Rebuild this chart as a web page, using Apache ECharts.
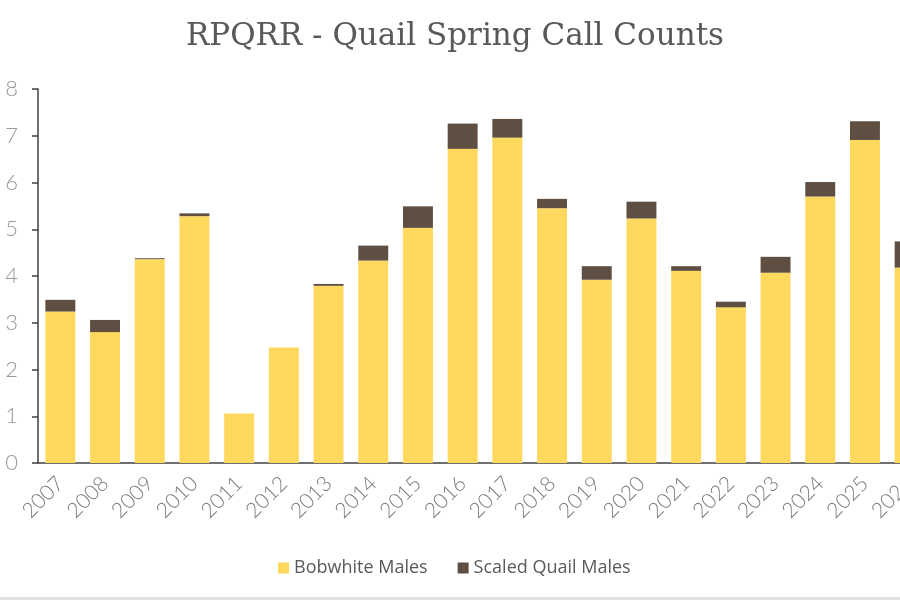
<!DOCTYPE html>
<html lang="en">
<head>
    <meta charset="UTF-8">
    <title>RPQRR - Quail Spring Call Counts</title>
    <script src="https://cdn.jsdelivr.net/npm/echarts@6/dist/echarts.min.js"></script>
    <style>
        html, body { margin: 0; padding: 0; background: #fff; overflow: hidden; }
        /* chart is wider than the window so the last bar gets cut off like the reference */
        #chart { width: 932px; height: 597px; }
        #rule { position: absolute; left: 0; top: 597px; width: 900px; height: 3px; background: #e3e3e3; }
    </style>
</head>
<body>
    <div id="chart"></div>
    <div id="rule"></div>
<script>
    // data
    var years = ['2007', '2008', '2009', '2010', '2011', '2012', '2013', '2014', '2015', '2016',
        '2017', '2018', '2019', '2020', '2021', '2022', '2023', '2024', '2025', '2026'];
    var bobwhite = [3.24, 2.80, 4.36, 5.28, 1.06, 2.47, 3.79, 4.33, 5.03, 6.72,
        6.96, 5.45, 3.92, 5.23, 4.11, 3.33, 4.07, 5.70, 6.91, 4.18];
    var scaled = [0.25, 0.26, 0.02, 0.06, 0, 0, 0.04, 0.32, 0.46, 0.54,
        0.40, 0.20, 0.29, 0.36, 0.10, 0.12, 0.34, 0.31, 0.40, 0.56];
    var yTicks = [0, 1, 2, 3, 4, 5, 6, 7, 8];

    var chart = echarts.init(document.getElementById('chart'));
    var option = {
        animation: false,
        title: {
            text: 'RPQRR - Quail Spring Call Counts',
            left: 450,
            textAlign: 'center',
            top: 16,
            textStyle: {
                fontFamily: 'DejaVu Serif',
                fontWeight: 'normal',
                fontSize: 31,
                color: '#595959'
            }
        },
        legend: {
            top: 554,
            left: 273,
            itemWidth: 11,
            itemHeight: 11,
            itemGap: 30,
            icon: 'rect',
            textStyle: {
                fontFamily: 'Open Sans',
                fontSize: 18,
                color: '#595959'
            },
            data: ['Bobwhite Males', 'Scaled Quail Males']
        },
        grid: {
            left: 38,
            right: 0,
            top: 89,
            bottom: 134
        },
        xAxis: {
            type: 'category',
            data: years,
            axisLine: { lineStyle: { color: '#404040', width: 1.5 } },
            axisTick: { show: false },
            axisLabel: {
                rotate: 45,
                interval: 0,
                margin: 17,
                fontFamily: 'Lato',
                fontWeight: 300,
                fontSize: 21,
                color: '#7a7a7a'
            }
        },
        yAxis: {
            type: 'value',
            min: yTicks[0],
            max: yTicks[yTicks.length - 1],
            interval: 1,
            axisLine: { show: true, lineStyle: { color: '#404040', width: 1.5 } },
            axisTick: { show: true, length: 6, lineStyle: { color: '#404040', width: 1.5 } },
            splitLine: { show: false },
            axisLabel: {
                margin: 20,
                fontFamily: 'Lato',
                fontWeight: 300,
                fontSize: 22,
                color: '#999999'
            }
        },
        series: [{
                name: 'Bobwhite Males',
                type: 'bar',
                stack: 'total',
                barCategoryGap: '33%',
                itemStyle: { color: '#ffd95e' },
                data: bobwhite
            },
            {
                name: 'Scaled Quail Males',
                type: 'bar',
                stack: 'total',
                barCategoryGap: '33%',
                itemStyle: { color: '#5e4f42' },
                data: scaled
            }
        ]
    };
    chart.setOption(option);
</script>
</body>
</html>
